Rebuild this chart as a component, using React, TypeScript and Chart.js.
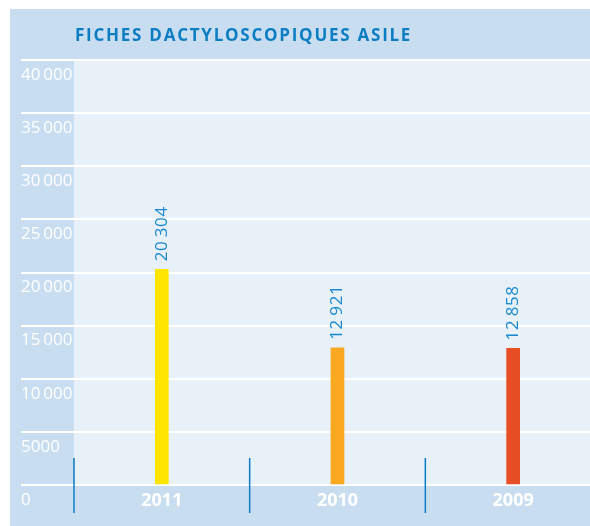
import React, { useEffect, useRef } from 'react';
import { Chart, registerables } from 'chart.js';

Chart.register(...registerables);

const chartTitle = 'FICHES DACTYLOSCOPIQUES ASILE';
const categories = ['2011', '2010', '2009'];
const values = [20304, 12921, 12858];
const barColors = ['#ffe400', '#f9a81f', '#e84e24'];
const yMin = 0;
const yMax = 40000;
const yStep = 5000;

const fmt = (v: number): string => {
  const s = String(Math.round(v));
  if (s.length <= 4) return s;
  return s.slice(0, s.length - 3) + '\u2009' + s.slice(s.length - 3);
};

const PANEL = '#c9ddf1';
const PLOT = '#e8f0f8';
const BLUE = '#0a7dc3';
const LABEL_BLUE = '#1789d1';
const FONT = '"Open Sans", "Noto Sans", sans-serif';

const decor = {
  id: 'decor',
  beforeDraw(chart: any) {
    const { ctx, chartArea } = chart;
    ctx.save();
    ctx.fillStyle = PANEL;
    ctx.fillRect(10, 9, chart.width - 10, chart.height - 9);
    ctx.fillStyle = PLOT;
    ctx.fillRect(chartArea.left, chartArea.top, chartArea.right - chartArea.left, chartArea.bottom - chartArea.top);
    ctx.fillStyle = BLUE;
    ctx.font = `bold 17px ${FONT}`;
    (ctx as any).letterSpacing = '1.75px';
    ctx.textBaseline = 'middle';
    ctx.textAlign = 'left';
    ctx.fillText(chartTitle, chartArea.left + 1, 36);
    ctx.restore();
  },
  afterDatasetsDraw(chart: any) {
    const { ctx } = chart;
    const meta = chart.getDatasetMeta(0);
    ctx.save();
    ctx.fillStyle = LABEL_BLUE;
    ctx.font = `17px ${FONT}`;
    (ctx as any).letterSpacing = '0.6px';
    ctx.textBaseline = 'middle';
    ctx.textAlign = 'left';
    meta.data.forEach((bar: any, i: number) => {
      ctx.save();
      ctx.translate(bar.x, bar.y - 8);
      ctx.rotate(-Math.PI / 2);
      ctx.fillText(fmt(values[i]), 0, 0);
      ctx.restore();
    });
    ctx.restore();
  },
  afterDraw(chart: any) {
    const { ctx, chartArea } = chart;
    const xs = chart.scales.x;
    const half = (xs.getPixelForValue(1) - xs.getPixelForValue(0)) / 2;
    ctx.save();
    ctx.strokeStyle = BLUE;
    ctx.lineWidth = 1.5;
    for (let i = 0; i < categories.length; i++) {
      const x = xs.getPixelForValue(i) - half;
      ctx.beginPath();
      ctx.moveTo(x, chartArea.bottom - 27);
      ctx.lineTo(x, chartArea.bottom + 28);
      ctx.stroke();
    }
    ctx.restore();
  },
};

export default function App() {
  const ref = useRef<HTMLCanvasElement | null>(null);
  useEffect(() => {
    if (!ref.current) return;
    const chart = new Chart(ref.current, {
      type: 'bar',
      data: {
        labels: categories,
        datasets: [
          {
            data: values,
            backgroundColor: barColors,
            borderWidth: 0,
            barThickness: 13,
          },
        ],
      },
      options: {
        responsive: false,
        animation: false,
        layout: { padding: { left: 21, top: 60, right: 0, bottom: 0 } },
        plugins: { legend: { display: false }, tooltip: { enabled: false }, title: { display: false } },
        scales: {
          x: {
            grid: { display: false },
            border: { display: false },
            ticks: { color: '#ffffff', font: { family: FONT, size: 18, weight: 'bold' }, padding: -3 },
            afterFit: (s: any) => { s.height = 41; },
          },
          y: {
            min: yMin,
            max: yMax,
            border: { display: false },
            grid: { color: '#ffffff', lineWidth: 2, tickLength: 53, drawTicks: true },
            ticks: {
              stepSize: yStep,
              color: '#ffffff',
              font: { family: FONT, size: 17 },
              crossAlign: 'far',
              labelOffset: 15,
              callback: (v: any) => fmt(Number(v)),
            },
            afterFit: (s: any) => { s.width = 53; },
          },
        },
      },
      plugins: [decor],
    } as any);
    return () => chart.destroy();
  }, []);
  return (
    <div style={{ position: 'fixed', left: 0, top: 0, width: 590, height: 526, overflow: 'hidden', background: '#ffffff' }}>
      <canvas ref={ref} width={601} height={526} style={{ display: 'block' }} />
    </div>
  );
}
